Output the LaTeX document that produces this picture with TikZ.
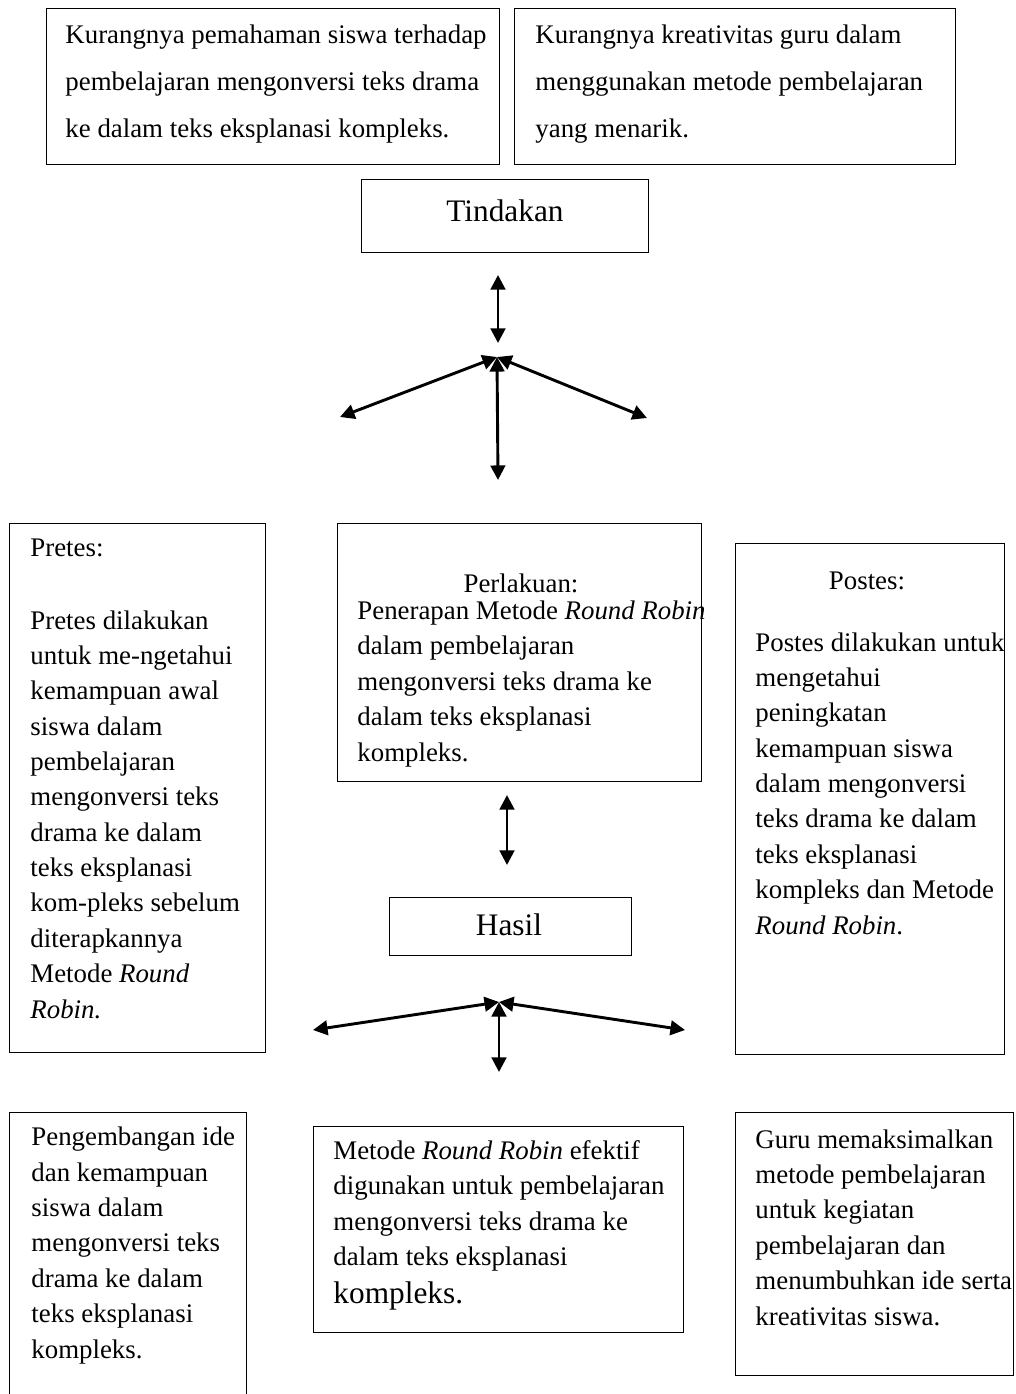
\documentclass[tikz,border=0pt]{standalone}
\usepackage{fontspec}
\setmainfont{Liberation Serif}
\usetikzlibrary{arrows.meta}

\tikzset{
    kotak/.style 2 args={draw, line width=0.6pt, inner sep=0pt, anchor=north west,
        minimum width=#1*0.447pt, minimum height=#2*0.447pt},
    teks/.style={align=left, anchor=base west, inner sep=0pt, font=\fontsize{12}{15.8}\selectfont},
    judul/.style={anchor=base, inner sep=0pt, font=\fontsize{12}{15.8}\selectfont},
    besar/.style={anchor=base, inner sep=0pt, font=\fontsize{14}{17}\selectfont},
    panah/.style={<->, line width=1.3pt, >={Triangle[length=6.5pt,width=6.5pt]}}
}

\begin{document}
\begin{tikzpicture}[x=0.447pt, y=-0.447pt]
        \useasboundingbox (0,0) rectangle (1016,1394);

        % masalah (teks: baseline baris terakhir)
        \node[kotak={453}{156}] (K1) at (46,8) {};
        \node[kotak={441}{156}] (K2) at (514,8) {};
        \node[teks, font=\fontsize{12}{21}\selectfont] (tK1) at (65,137)
            {Kurangnya pemahaman siswa terhadap\\ pembelajaran mengonversi teks drama\\ ke dalam teks eksplanasi kompleks.};
        \node[teks, font=\fontsize{12}{21}\selectfont] (tK2) at (535,137)
            {Kurangnya kreativitas guru dalam\\ menggunakan metode pembelajaran\\ yang menarik.};

        \node[kotak={287}{73}] (T) at (361,179) {};
        \node[besar] (tT) at (505,221) {Tindakan};

        \coordinate (A1) at (498,275);
        \coordinate (A2) at (498,343);
        \coordinate (P) at (497,357);
        \coordinate (PL) at (340,417);
        \coordinate (PR) at (647,418);
        \coordinate (PD) at (498,480);
        \draw[panah] (A1) -- (A2);
        \draw[panah] (P) -- (PL);
        \draw[panah] (P) -- (PR);
        \draw[panah] (P) -- (PD);

        % pretes, perlakuan, postes
        \node[kotak={256}{529}] (Pre) at (9,523) {};
        \node[teks] (tPre) at (30,1018)
            {Pretes:\\[16.8pt] Pretes dilakukan\\ untuk me-ngetahui\\ kemampuan awal\\ siswa dalam\\ pembelajaran\\
             mengonversi teks\\ drama ke dalam\\ teks eksplanasi\\ kom-pleks sebelum\\ diterapkannya\\
             Metode \textit{Round}\\ \textit{Robin.}};

        \node[kotak={364}{258}] (Per) at (337,523) {};
        \node[judul] (jPer) at (521,592) {Perlakuan:};
        \node[teks] (tPer) at (357,761)
            {Penerapan Metode \textit{Round Robin}\\ dalam pembelajaran\\ mengonversi teks drama ke\\
             dalam teks eksplanasi\\ kompleks.};

        \node[kotak={269}{511}] (Post) at (735,543) {};
        \node[judul] (jPost) at (867,589) {Postes:};
        \node[teks] (tPost) at (755,934)
            {Postes dilakukan untuk\\ mengetahui\\ peningkatan\\ kemampuan siswa\\ dalam mengonversi\\
             teks drama ke dalam\\ teks eksplanasi\\ kompleks dan Metode\\ \textit{Round Robin}.};

        \coordinate (B1) at (507,795);
        \coordinate (B2) at (507,865);
        \draw[panah] (B1) -- (B2);

        \node[kotak={242}{58}] (H) at (389,897) {};
        \node[besar] (tH) at (509,935) {Hasil};

        \coordinate (Q) at (499,1002);
        \coordinate (QL) at (313,1030);
        \coordinate (QR) at (685,1030);
        \coordinate (QD) at (499,1072);
        \draw[panah] (Q) -- (QL);
        \draw[panah] (Q) -- (QR);
        \draw[panah] (Q) -- (QD);

        % hasil akhir
        \node[kotak={237}{330}] (S1) at (9,1112) {};
        \node[teks] (tS1) at (31,1358)
            {Pengembangan ide\\ dan kemampuan\\ siswa dalam\\ mengonversi teks\\ drama ke dalam\\
             teks eksplanasi\\ kompleks.};

        \node[kotak={370}{206}] (S2) at (313,1126) {};
        \node[teks] (tS2) at (333,1303)
            {Metode \textit{Round Robin} efektif\\ digunakan untuk pembelajaran\\ mengonversi teks drama ke\\
             dalam teks eksplanasi\\[1pt] {\fontsize{14}{17}\selectfont kompleks.}};

        \node[kotak={278}{263}] (S3) at (735,1112) {};
        \node[teks] (tS3) at (755,1325)
            {Guru memaksimalkan\\ metode pembelajaran\\ untuk kegiatan\\ pembelajaran dan\\
             menumbuhkan ide serta\\ kreativitas siswa.};

    \end{tikzpicture}
\end{document}
